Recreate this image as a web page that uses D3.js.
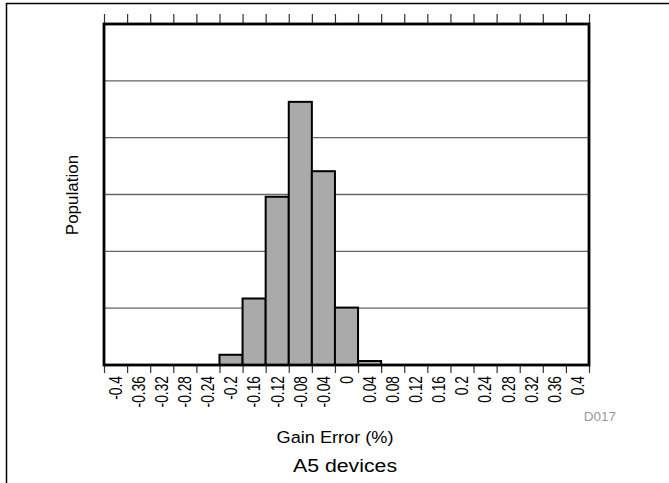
<!DOCTYPE html>
<html>
<head>
<meta charset="utf-8">
<script src="https://cdn.jsdelivr.net/npm/d3@7"></script>
<style>
  html, body { margin: 0; padding: 0; background: #fff; }
  svg { display: block; }
  text { font-family: "Liberation Sans", Arial, Helvetica, sans-serif; }
</style>
</head>
<body>
<svg id="chart" width="669" height="483"></svg>
<script>
// ---- data ----
const binLabels = ["-0.4","-0.36","-0.32","-0.28","-0.24","-0.2","-0.16","-0.12","-0.08","-0.04","0",
                   "0.04","0.08","0.12","0.16","0.2","0.24","0.28","0.32","0.36","0.4"];
const population = [0,0,0,0,0,0.18,1.17,2.96,4.63,3.41,1.01,0.07,0,0,0,0,0,0,0,0,0];
const gridValues = [1,2,3,4,5];
const xTitle = "Gain Error (%)";
const yTitle = "Population";
const caption = "A5 devices";
const figId = "D017";

// ---- layout ----
const svg = d3.select("#chart");
const L = 104, R = 589, T = 24, B = 365;

// outer frame (top & left visible)
svg.append("rect").attr("x", 6.5).attr("y", 3.5).attr("width", 700).attr("height", 500)
  .attr("fill", "none").attr("stroke", "#000").attr("stroke-width", 1.5);

const x = d3.scaleBand().domain(binLabels).range([L, R]).paddingInner(0).paddingOuter(0);
const xEdge = d3.scaleLinear().domain([0, binLabels.length]).range([L, R]);
const y = d3.scaleLinear().domain([0, 6]).range([B, T]);

// gridlines
svg.append("g").selectAll("line").data(gridValues).join("line")
  .attr("x1", L).attr("x2", R)
  .attr("y1", d => y(d)).attr("y2", d => y(d))
  .attr("stroke", "#666").attr("stroke-width", 1.3);

// bars
svg.append("g").selectAll("rect").data(binLabels.map((b, i) => ({b, v: population[i]})).filter(d => d.v > 0))
  .join("rect")
  .attr("x", d => x(d.b))
  .attr("width", x.bandwidth())
  .attr("y", d => y(d.v))
  .attr("height", d => y(0) - y(d.v))
  .attr("fill", "#aaaaaa").attr("stroke", "#000").attr("stroke-width", 2);

// top boundary ticks
const edges = d3.range(0, binLabels.length + 1);
const topAxis = d3.axisTop(xEdge).tickValues(edges).tickSize(10).tickFormat("");
svg.append("g").attr("transform", `translate(0,${T})`).call(topAxis)
  .call(g => g.select(".domain").remove())
  .call(g => g.selectAll("line").attr("stroke", "#333").attr("stroke-width", 1.2));

// bottom boundary ticks
const botAxis = d3.axisBottom(xEdge).tickValues(edges).tickSize(8).tickFormat("");
svg.append("g").attr("transform", `translate(0,${B})`).call(botAxis)
  .call(g => g.select(".domain").remove())
  .call(g => g.selectAll("line").attr("stroke", "#333").attr("stroke-width", 1.2));

// bottom labels (centered in bins, rotated)
const labAxis = d3.axisBottom(x).tickSize(0).tickPadding(0);
svg.append("g").attr("transform", `translate(0,${B})`).call(labAxis)
  .call(g => g.select(".domain").remove())
  .call(g => g.selectAll("text")
    .attr("transform", "rotate(-90) scale(1,1.28)")
    .attr("x", -11).attr("y", 0).attr("dy", "0.36em")
    .attr("text-anchor", "end")
    .style("font-family", "'Liberation Sans', Arial, sans-serif")
    .attr("font-size", 13.8).attr("fill", "#000"));

// plot border
svg.append("rect").attr("x", L).attr("y", T).attr("width", R - L).attr("height", B - T)
  .attr("fill", "none").attr("stroke", "#000").attr("stroke-width", 2.8);

// titles
svg.append("text").attr("transform", `translate(78,195) rotate(-90)`)
  .attr("text-anchor", "middle").attr("font-size", 17).text(yTitle);
svg.append("text").attr("transform", `translate(335,442.5) scale(1.1,1)`)
  .attr("text-anchor", "middle").attr("font-size", 16.5).text(xTitle);
svg.append("text").attr("transform", `translate(345,471.5) scale(1.12,1)`)
  .attr("text-anchor", "middle").attr("font-size", 19).text(caption);
svg.append("text").attr("x", 600).attr("y", 420.5)
  .attr("text-anchor", "middle").attr("font-size", 13.5).attr("fill", "#999").text(figId);
</script>
</body>
</html>
